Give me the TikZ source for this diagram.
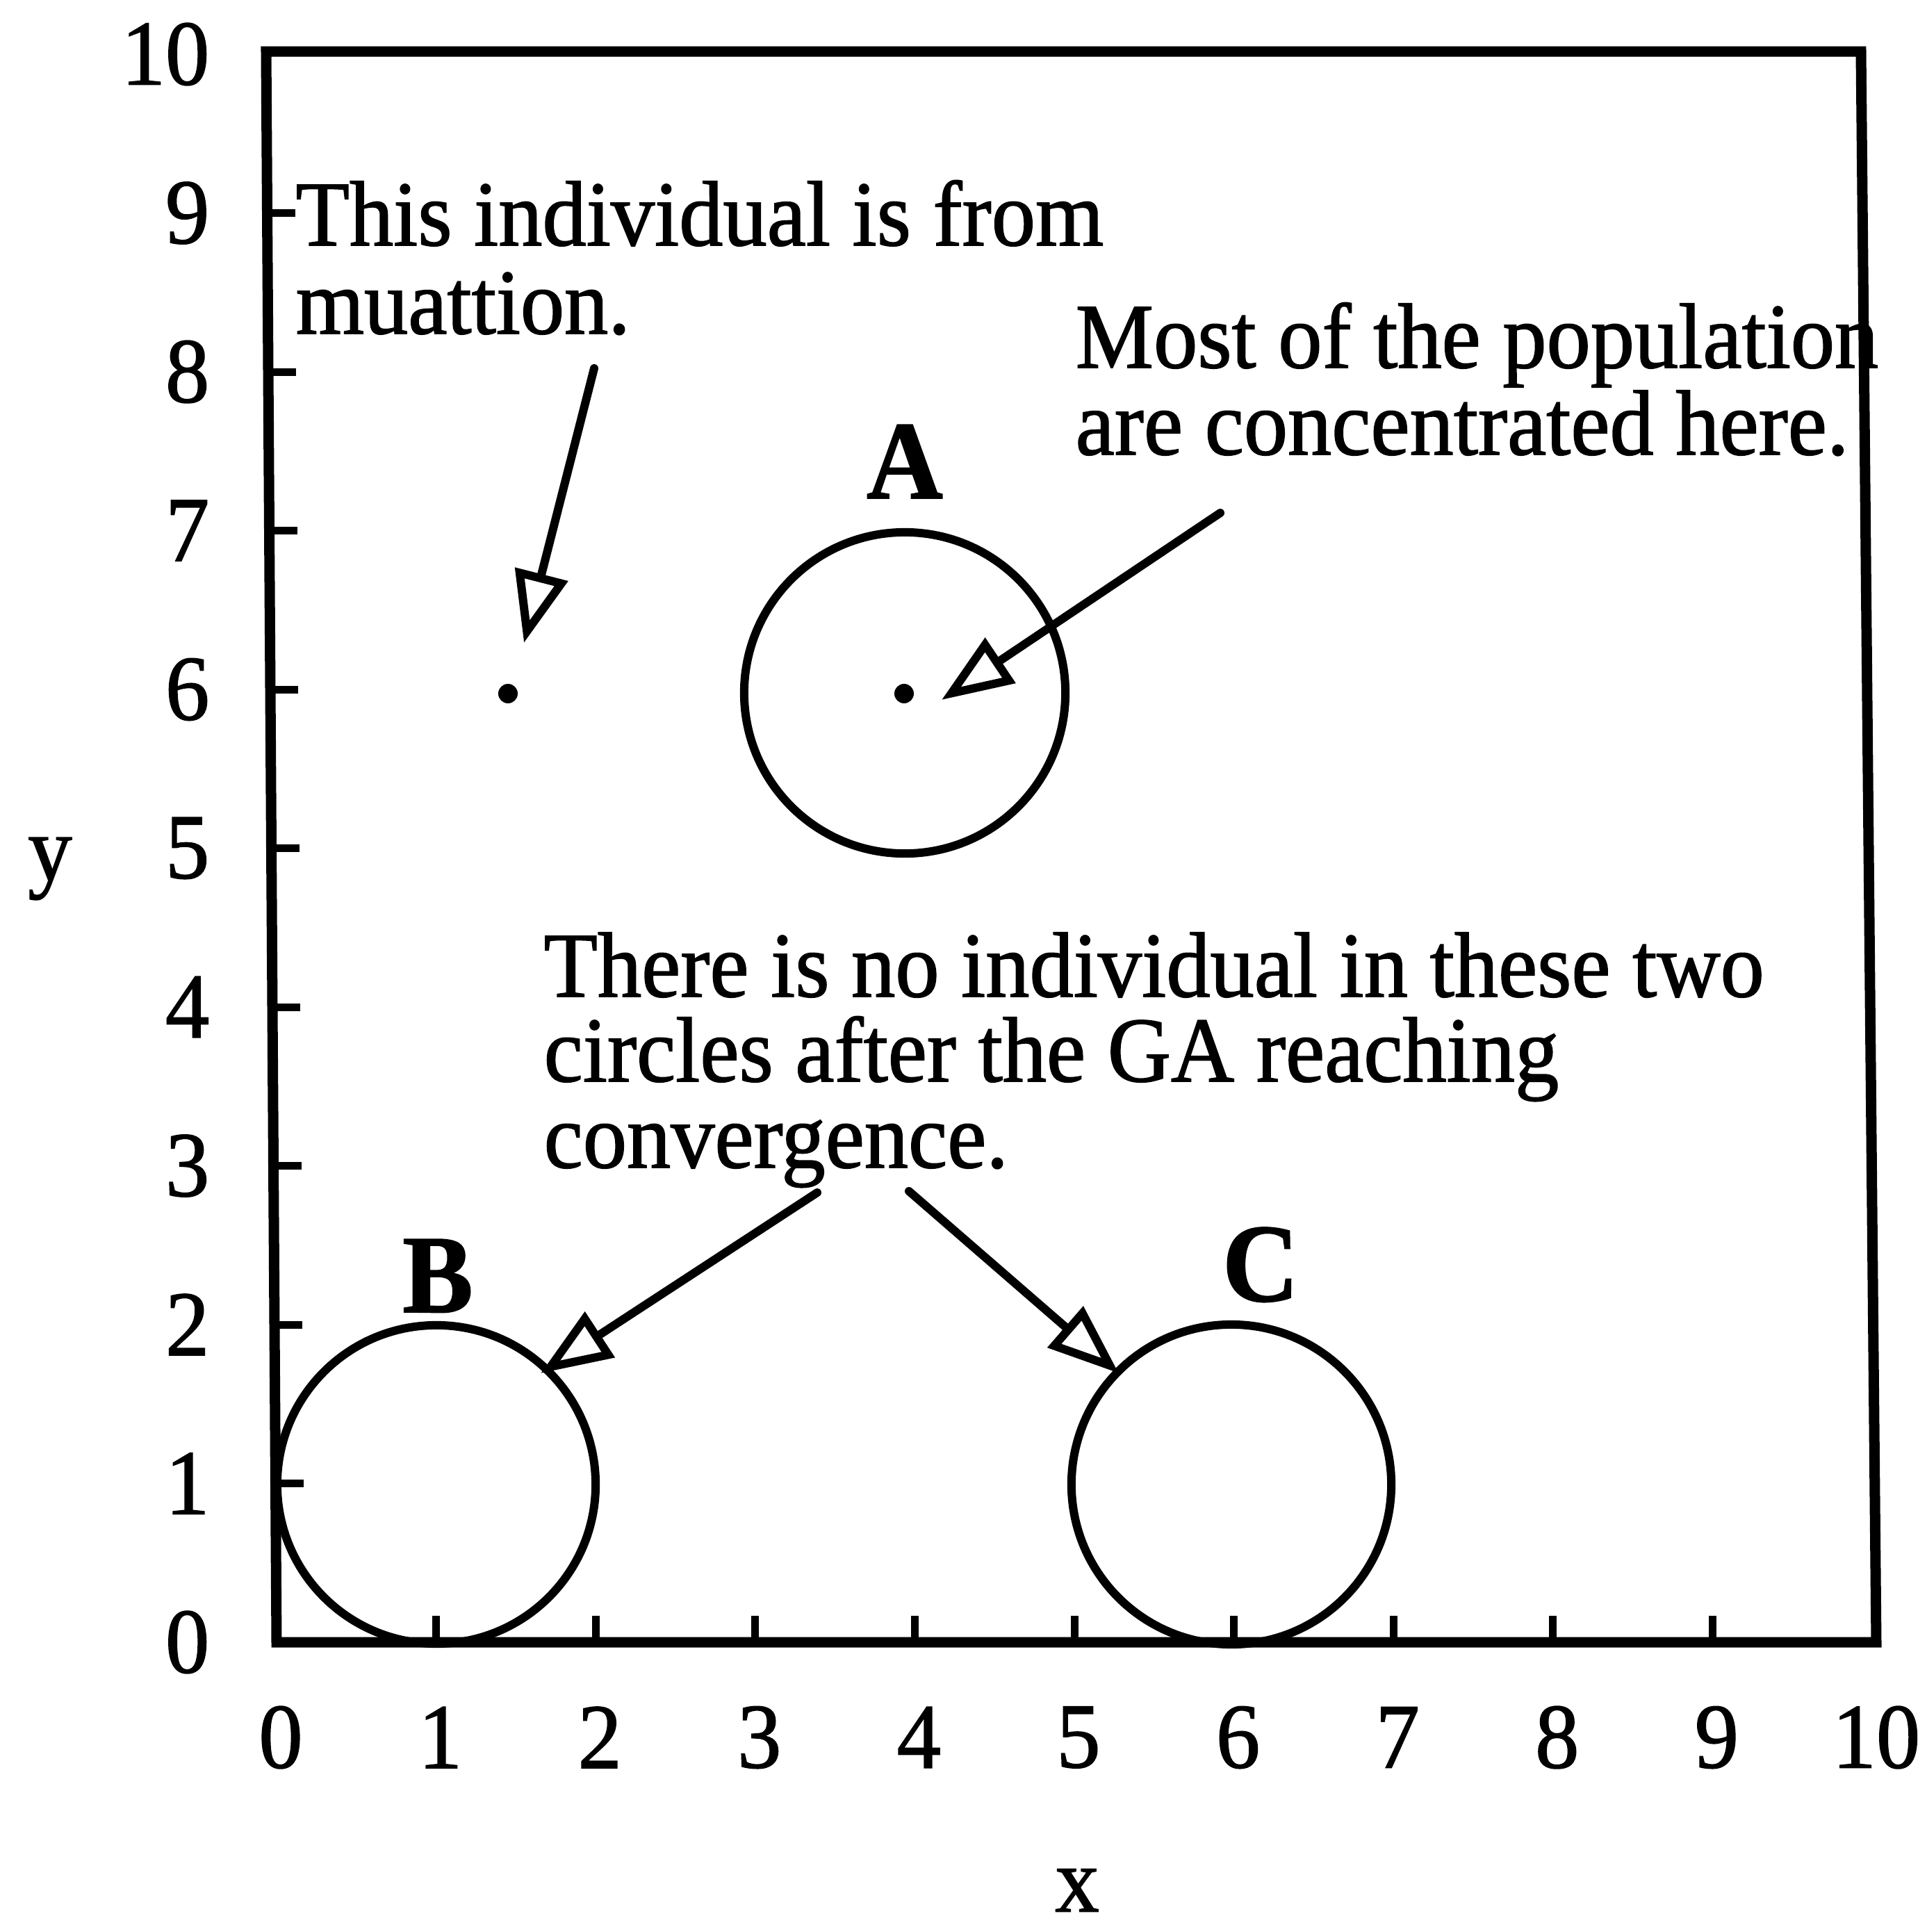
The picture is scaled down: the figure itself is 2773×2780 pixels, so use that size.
\documentclass[tikz,border=0pt]{standalone}
\usepackage{fontspec}
\setmainfont{Liberation Serif}[FakeStretch=0.95, FakeBold=1.2]
\usetikzlibrary{arrows.meta}
\begin{document}
\begin{tikzpicture}[x=0.01cm,y=-0.01cm,
  txt/.style={inner sep=0pt, anchor=base west, font=\fontsize{37.85pt}{36pt}\selectfont},
  num/.style={inner sep=0pt, font=\fontsize{37.85pt}{36pt}\selectfont},
  lbl/.style={inner sep=0pt, anchor=base, font=\fontsize{45.5pt}{45pt}\selectfont\bfseries},
  frame/.style={line width=0.15cm, line join=miter},
  tickmark/.style={line width=0.11cm},
  ring/.style={draw, circle, line width=0.12cm, inner sep=0pt},
  pointer/.style={line width=0.12cm, line cap=round, -{Triangle[open, length=1.02cm, width=0.76cm]}},
  dot/.style={circle, fill=black, inner sep=0pt, minimum size=0.28cm}
]
\useasboundingbox (0,0) rectangle (2773,2780);
% frame
\draw[frame] (383,74) -- (2678,74) -- (2700,2363) -- (398,2363) -- cycle;
% ticks
\foreach \v in {1,...,9} {
  \pgfmathsetmacro\yy{2363-228.5*\v}
  \pgfmathsetmacro\xx{398-1.4974*\v}
  \draw[tickmark] (\xx,\yy) -- ++(40,0);
}
\foreach \u in {1,...,9} {
  \pgfmathsetmacro\xx{398+229.6*\u}
  \draw[tickmark] (\xx,2363) -- ++(0,-38);
}
% tick labels
\foreach \v in {0,...,10} {
  \node[num, anchor=east] (yl\v) at (302, 2363-228.5*\v) {\v};
}
\foreach \u in {0,...,10} {
  \node[num] (xl\u) at (404+229.6*\u, 2500) {\u};
}
\node[num] (ylab) at (72,1250) {y};
\node[num] (xlab) at (1550,2720) {x};
% circles
\node[ring, minimum size=4.62cm] (cA) at (1302,997) {};
\node[ring, minimum size=4.58cm] (cB) at (628,2136) {};
\node[ring, minimum size=4.60cm] (cC) at (1772,2136) {};
% dots
\node[dot] (d1) at (731,998) {};
\node[dot] (d2) at (1301,998) {};
% labels
\node[lbl] (lA) at (1302,717) {A};
\node[lbl] (lB) at (630,1888) {B};
\node[lbl] (lC) at (1814,1872) {C};
% texts
\node[txt] (t1a) at (425,353) {This individual is from};
\node[txt] (t1b) at (425,480) {muattion.};
\node[txt] (t2a) at (1547,529) {Most of the population};
\node[txt] (t2b) at (1547,654) {are concentrated here.};
\node[txt] (t3a) at (782,1434) {There is no individual in these two};
\node[txt] (t3b) at (782,1556) {circles after the GA reaching};
\node[txt] (t3c) at (782,1680) {convergence.};
% arrows
\coordinate (tail1) at (855,530);
\coordinate (tip1) at (754,925);
\coordinate (tail2) at (1756,738);
\coordinate (tip2) at (1355,1007);
\coordinate (tail3) at (1176,1716);
\coordinate (tip3) at (778,1976);
\coordinate (tail4) at (1308,1714);
\coordinate (tip4) at (1610,1976);
\draw[pointer] (tail1) -- (tip1);
\draw[pointer] (tail2) -- (tip2);
\draw[pointer] (tail3) -- (tip3);
\draw[pointer] (tail4) -- (tip4);
\end{tikzpicture}
\end{document}
